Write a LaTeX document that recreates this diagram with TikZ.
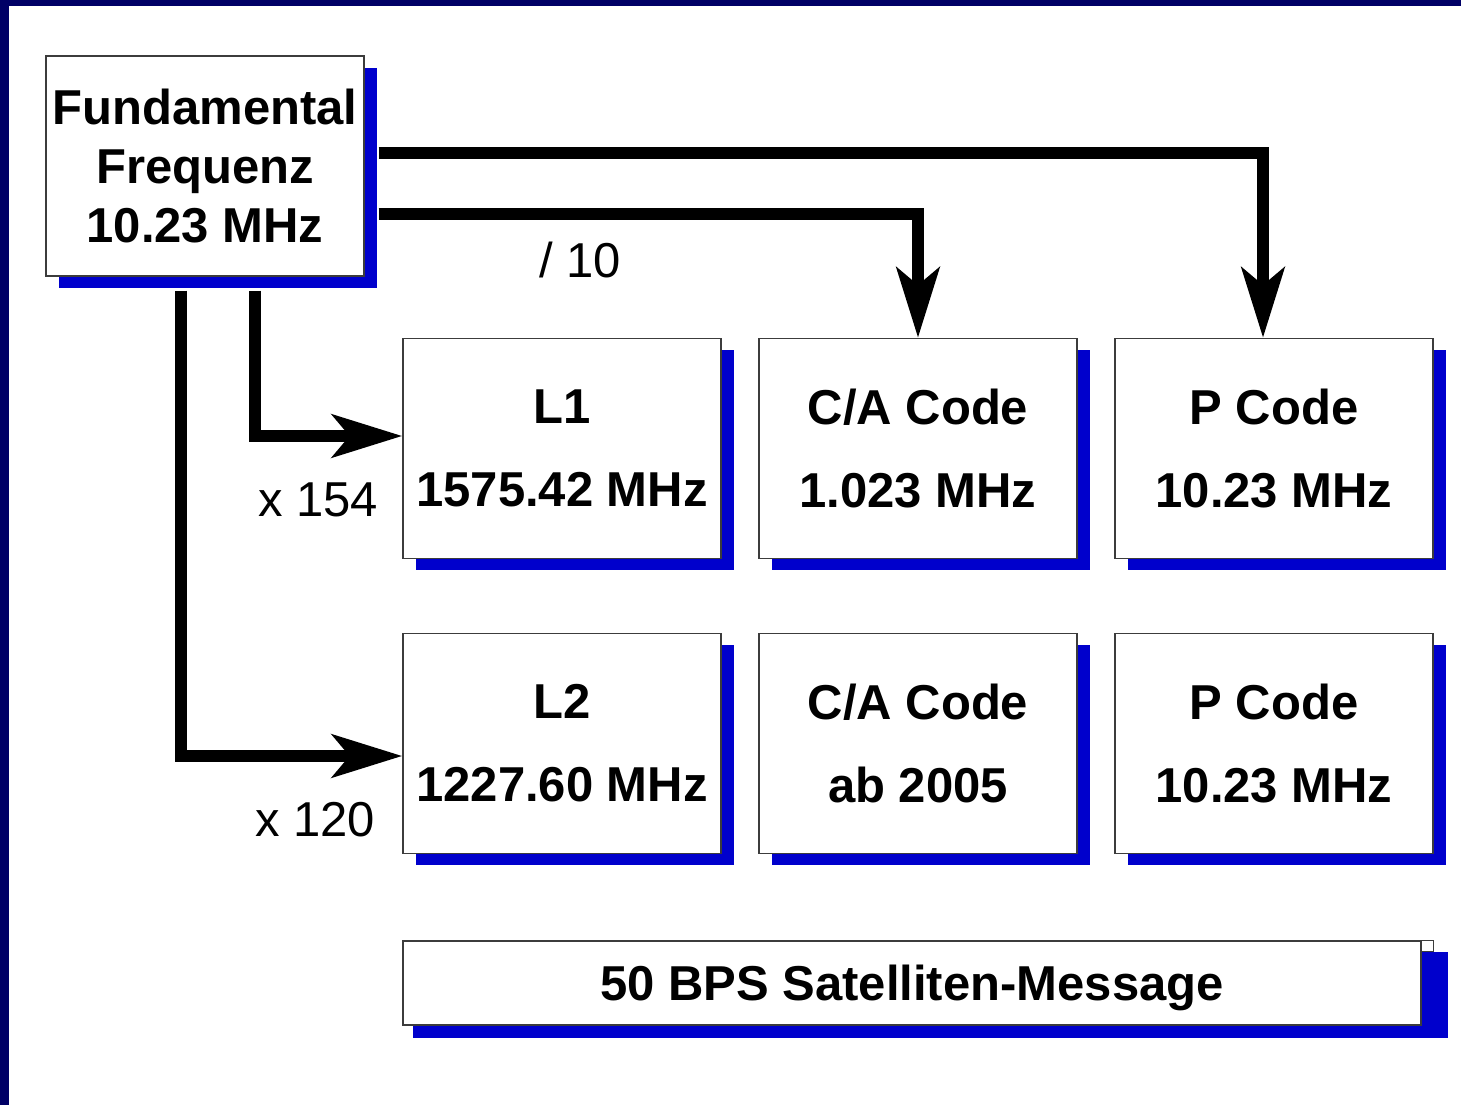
\documentclass[tikz,border=0pt]{standalone}
\usepackage{fontspec}
\setmainfont{Liberation Sans}
\usetikzlibrary{arrows.meta,shadows,calc}

\definecolor{frameblue}{RGB}{0,0,102}
\definecolor{shblue}{RGB}{0,0,204}
\definecolor{edgegray}{RGB}{60,60,60}

\tikzset{
  box/.style={draw=edgegray, line width=1pt, fill=white, inner sep=0pt,
    minimum width=238.5pt, minimum height=165pt, align=center,
    font=\fontsize{36.75}{62.25}\selectfont\bfseries,
    drop shadow={shadow xshift=9.75pt, shadow yshift=-8.75pt, opacity=1, fill=shblue}},
  feed/.style={line width=9pt, draw=black, line join=miter,
    -{Stealth[length=52.5pt, width=32pt, inset=13pt]}},
  factor/.style={font=\fontsize{36.75}{44}\selectfont, inner sep=0pt}
}

\begin{document}
\begin{tikzpicture}[x=0.75pt, y=-0.75pt]
  % page and frame
  \useasboundingbox (0,0) rectangle (1461,1105);
  \fill[white] (0,0) rectangle (1461,1105);
  \fill[frameblue] (0,0) rectangle (1461,6);
  \fill[frameblue] (0,0) rectangle (9,1105);

  % source oscillator
  \node[box, font=\fontsize{36.75}{44.6}\selectfont\bfseries] (fund) at (205,166)
    {Fundamental\\Frequenz\\10.23 MHz};

  % carriers and codes
  \node[box] (l1)  at (562,448.5)  {L1\\1575.42 MHz};
  \node[box] (ca1) at (918,448.5)  {C/A Code\\1.023 MHz};
  \node[box] (pc1) at (1274,448.5) {P Code\\10.23 MHz};
  \node[box] (l2)  at (562,743.5)  {L2\\1227.60 MHz};
  \node[box] (ca2) at (918,743.5)  {C/A Code\\ab 2005};
  \node[box] (pc2) at (1274,743.5) {P Code\\10.23 MHz};

  % navigation message bar
  \fill[shblue] (413,952) rectangle (1448,1038);
  \node[draw=edgegray, line width=1pt, fill=white, inner sep=0pt,
        minimum width=763.5pt, minimum height=63pt, text depth=0pt,
        font=\fontsize{36.75}{44}\selectfont\bfseries] (msg) at (912,983)
    {50 BPS Satelliten-Message};
  \draw[edgegray, line width=1pt, fill=white]
    (msg.north east) -- ++(12,0) -- ++(0,11) -- ($(msg.north east)+(0,11)$);

  % frequency relations
  \draw[feed] ([shift={(14,-12.5)}]fund.east) -| ([shift={(-11,0)}]pc1.north);
  \draw[feed] ([shift={(14,48.5)}]fund.east) -| (ca1.north);
  \draw[feed] ([shift={(50,14)}]fund.south) |- ([shift={(0,-12.5)}]l1.west);
  \draw[feed] ([shift={(-24,14)}]fund.south) |- ([shift={(0,12.5)}]l2.west);

  % factor labels
  \node[factor] (div10)  at (580,260) {/ 10};
  \node[factor] (mul154) at (318,500) {x 154};
  \node[factor] (mul120) at (315,820) {x 120};
\end{tikzpicture}
\end{document}
